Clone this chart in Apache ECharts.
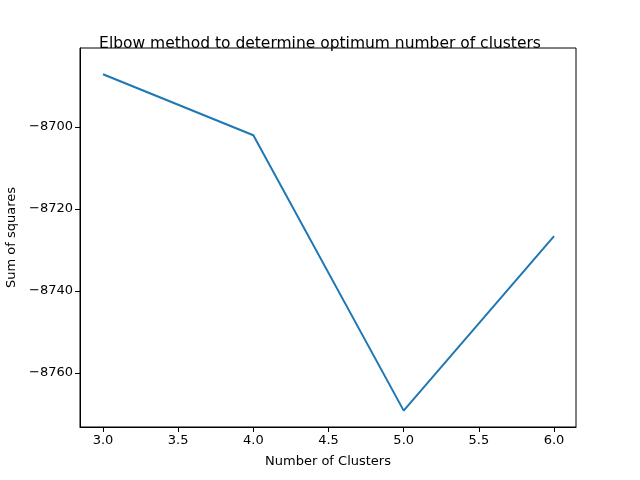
<!DOCTYPE html>
<html>
<head>
<meta charset="utf-8">
<script src="https://cdn.jsdelivr.net/npm/echarts@6/dist/echarts.min.js"></script>
<style>body{margin:0}#c{width:640px;height:480px}</style>
</head>
<body>
<div id="c"></div>
<script>
var clusters = [3, 4, 5, 6];
var sumSquares = [-8687.1, -8702.0, -8769.2, -8726.6];
var xTicks = [3.0, 3.5, 4.0, 4.5, 5.0, 5.5, 6.0];
var yTicks = [-8760, -8740, -8720, -8700];

var font = 'DejaVu Sans';
var chart = echarts.init(document.getElementById('c'));
chart.setOption({
    animation: false,
    backgroundColor: '#fff',
    title: {
        text: 'Elbow method to determine optimum number of clusters',
        left: 'center', top: 31,
        textStyle: {fontFamily: font, fontSize: 15.5, fontWeight: 'normal', color: '#000'}
    },
    grid: {left: 80, right: 64, top: 48, bottom: 53, show: true, borderColor: '#000', borderWidth: 1,
        backgroundColor: 'transparent', containLabel: false, outerBoundsMode: 'none'},
    xAxis: {
        type: 'value', min: 2.847, max: 6.146,
        name: 'Number of Clusters', nameLocation: 'middle', nameGap: 28,
        nameTextStyle: {fontFamily: font, fontSize: 13, color: '#000'},
        axisLine: {onZero: false, lineStyle: {color: '#000'}},
        axisTick: {show: true, length: 5, inside: false, customValues: xTicks, lineStyle: {color: '#000'}},
        axisLabel: {customValues: xTicks, fontFamily: font, fontSize: 13, color: '#000', margin: 7,
            formatter: function (v) { return v.toFixed(1); }},
        splitLine: {show: false}
    },
    yAxis: {
        type: 'value', min: -8773.2, max: -8680.7,
        name: 'Sum of squares', nameLocation: 'middle', nameGap: 62,
        nameTextStyle: {fontFamily: font, fontSize: 13, color: '#000'},
        axisLine: {show: true, onZero: false, lineStyle: {color: '#000'}},
        axisTick: {show: true, length: 5, customValues: yTicks, lineStyle: {color: '#000'}},
        axisLabel: {customValues: yTicks, fontFamily: font, fontSize: 13, color: '#000', margin: 7,
            formatter: function (v) { return String(v).replace('-', '\u2212'); }},
        splitLine: {show: false}
    },
    series: [{
        type: 'line',
        data: clusters.map(function (c, i) { return [c, sumSquares[i]]; }),
        showSymbol: false,
        lineStyle: {color: '#1f77b4', width: 2},
        itemStyle: {color: '#1f77b4'}
    }]
});
</script>
</body>
</html>
